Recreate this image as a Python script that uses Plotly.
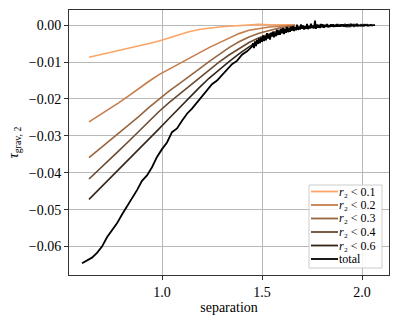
import numpy as np
import plotly.graph_objects as go

# separation grid of the r2 cut curves
sep_r = [0.635, 0.685, 0.735, 0.785, 0.835, 0.885, 0.935, 0.985, 1.035, 1.085, 1.135,
         1.185, 1.235, 1.285, 1.335, 1.385, 1.435, 1.485, 1.535, 1.585, 1.635, 1.665]

tau_r01 = [-0.0087, -0.0081, -0.0075, -0.0069, -0.0063, -0.0057, -0.0050, -0.0043, -0.0034, -0.0025, -0.0018,
           -0.0012, -0.0008, -0.0005, -0.0003, -0.0001, 0.0000, 0.0002, 0.0001, 0.0002, 0.0001, 0.0001]
tau_r02 = [-0.0262, -0.0245, -0.0228, -0.0210, -0.0191, -0.0171, -0.0152, -0.0134, -0.0119, -0.0104, -0.0089,
           -0.0075, -0.0061, -0.0048, -0.0035, -0.0023, -0.0014, -0.0009, -0.0005, -0.0003, -0.0001, 0.0000]
tau_r03 = [-0.0359, -0.0337, -0.0314, -0.0292, -0.0270, -0.0247, -0.0223, -0.0200, -0.0179, -0.0159, -0.0140,
           -0.0119, -0.0099, -0.0080, -0.0061, -0.0045, -0.0032, -0.0022, -0.0014, -0.0008, -0.0004, -0.0002]
tau_r04 = [-0.0417, -0.0392, -0.0366, -0.0340, -0.0314, -0.0287, -0.0260, -0.0234, -0.0210, -0.0188, -0.0165,
           -0.0142, -0.0120, -0.0100, -0.0081, -0.0063, -0.0047, -0.0034, -0.0023, -0.0014, -0.0008, -0.0005]
tau_r06 = [-0.0472, -0.0445, -0.0418, -0.0391, -0.0364, -0.0337, -0.0309, -0.0281, -0.0253, -0.0225, -0.0197,
           -0.0170, -0.0144, -0.0121, -0.0099, -0.0078, -0.0059, -0.0043, -0.0030, -0.0019, -0.0011, -0.0008]

# total: coarse part then fine bins in the noisy tail
sep_total_a = [0.600, 0.625, 0.650, 0.675, 0.700, 0.725, 0.750, 0.775, 0.800, 0.825, 0.850, 0.875,
               0.900, 0.925, 0.950, 0.975, 1.000, 1.025, 1.050, 1.075, 1.100, 1.125, 1.150, 1.175,
               1.200, 1.225, 1.250, 1.275, 1.300, 1.325, 1.350, 1.375, 1.400, 1.425, 1.450]
tau_total_a = [-0.0645, -0.0638, -0.0630, -0.0617, -0.0600, -0.0575, -0.0555, -0.0537, -0.0513, -0.0492,
               -0.0468, -0.0447, -0.0422, -0.0407, -0.0385, -0.0357, -0.0336, -0.0318, -0.0290, -0.0280,
               -0.0259, -0.0240, -0.0226, -0.0209, -0.0192, -0.0178, -0.0160, -0.0150, -0.0136, -0.0122,
               -0.0106, -0.0097, -0.0080, -0.0071, -0.0058]
sep_total_b = np.round(np.arange(1.455, 2.0651, 0.005), 3)
tau_total_b = [-0.0049, -0.0062, -0.0044, -0.0057, -0.0040, -0.0051, -0.0036, -0.0049, -0.0033, -0.0045,
               -0.0028, -0.0043, -0.0030, -0.0041, -0.0022, -0.0036, -0.0025, -0.0039, -0.0021, -0.0031,
               -0.0018, -0.0033, -0.0020, -0.0030, -0.0012, -0.0027, -0.0015, -0.0026, -0.0010, -0.0022,
               -0.0008, -0.0024, -0.0011, -0.0021, -0.0005, -0.0019, -0.0009, -0.0018, -0.0004, -0.0015,
               -0.0003, -0.0016, -0.0006, -0.0014, 0.0001, -0.0013, -0.0004, -0.0012, 0.0002, -0.0010,
               -0.0001, -0.0012, -0.0003, -0.0010, 0.0003, -0.0011, -0.0002, -0.0009, 0.0004, -0.0008,
               -0.0001, -0.0009, 0.0012, -0.0010, 0.0002, -0.0007, 0.0001, -0.0008, 0.0003, -0.0006,
               0.0002, -0.0007, 0.0001, -0.0005, 0.0003, -0.0006, 0.0000, -0.0005, 0.0002, -0.0004,
               0.0002, -0.0005, 0.0001, -0.0004, 0.0003, -0.0004, 0.0000, -0.0004, 0.0002, -0.0003,
               0.0002, -0.0004, 0.0001, -0.0003, 0.0002, -0.0003, 0.0001, -0.0003, 0.0002, -0.0002,
               0.0001, -0.0003, 0.0001, -0.0002, 0.0002, -0.0002, 0.0000, -0.0002, 0.0001, -0.0002,
               0.0001, -0.0002, 0.0001, -0.0001, 0.0001, -0.0002, 0.0000, -0.0001, 0.0001, -0.0001,
               0.0000, -0.0001, 0.0000]

sep_total = list(sep_total_a) + list(sep_total_b)
tau_total = tau_total_a + tau_total_b[:len(sep_total_b)]

names = ["<i>r</i>\u2082 &lt; 0.1", "<i>r</i>\u2082 &lt; 0.2", "<i>r</i>\u2082 &lt; 0.3",
         "<i>r</i>\u2082 &lt; 0.4", "<i>r</i>\u2082 &lt; 0.6", "total"]
colors = ["#fda566", "#c57d4c", "#98653f", "#6a4a31", "#35261a", "black"]
series = [tau_r01, tau_r02, tau_r03, tau_r04, tau_r06]

fig = go.Figure()
for nm, col, ys in zip(names, colors, series):
    fig.add_trace(go.Scatter(x=sep_r, y=ys, mode="lines", name=nm, showlegend=False,
                             line=dict(color=col, width=1.6)))
fig.add_trace(go.Scatter(x=sep_total, y=tau_total, mode="lines", name="total", showlegend=False,
                         line=dict(color="black", width=1.8)))

font = "Liberation Serif"
axis_common = dict(showline=True, mirror=True, linecolor="#333333", linewidth=1,
                   ticks="outside", ticklen=4, tickcolor="#333333", automargin=False,
                   showgrid=True, gridcolor="#b8b8b8", gridwidth=1, zeroline=False,
                   tickfont=dict(family=font, size=14, color="black"))

fig.update_xaxes(range=[0.535, 2.135], tickvals=[1.0, 1.5, 2.0], ticktext=["1.0", "1.5", "2.0"],
                 title=dict(text="separation", font=dict(family=font, size=14, color="black"), standoff=2),
                 **axis_common)
fig.update_yaxes(range=[-0.0677, 0.0041], tickvals=[-0.06, -0.05, -0.04, -0.03, -0.02, -0.01, 0.0],
                 tickformat=".2f",
                 title=dict(text="<i>τ</i><sub>grav, 2</sub>", font=dict(family=font, size=14, color="black"),
                            standoff=6),
                 **axis_common)

# legend box drawn by hand so rows stay as tight as the reference
def px_x(p):
    return (p - 69) / 320.0

def px_y(p):
    return (275 - p) / 265.0

shapes = [dict(type="rect", xref="paper", yref="paper", x0=px_x(309), x1=px_x(382),
               y0=px_y(268), y1=px_y(185), line=dict(color="#cccccc", width=1),
               fillcolor="rgba(255,255,255,0.85)", layer="above")]
annotations = []
row_y = [191.5, 205, 218.5, 232, 245.5, 259]
for nm, col, ry in zip(names, colors, row_y):
    shapes.append(dict(type="line", xref="paper", yref="paper", x0=px_x(311), x1=px_x(338),
                       y0=px_y(ry), y1=px_y(ry), line=dict(color=col, width=1.8), layer="above"))
    annotations.append(dict(xref="paper", yref="paper", x=px_x(338), y=px_y(ry), text=nm,
                            showarrow=False, xanchor="left", yanchor="middle",
                            borderpad=0, font=dict(family=font, size=12, color="black")))

fig.update_layout(
    width=399, height=320,
    margin=dict(l=69, r=10, t=10, b=45),
    plot_bgcolor="white", paper_bgcolor="white",
    font=dict(family=font, color="black"),
    shapes=shapes, annotations=annotations,
    showlegend=False,
)

fig.write_html("out.html", config={"displayModeBar": False},
               post_script="document.body.style.margin='0';")
